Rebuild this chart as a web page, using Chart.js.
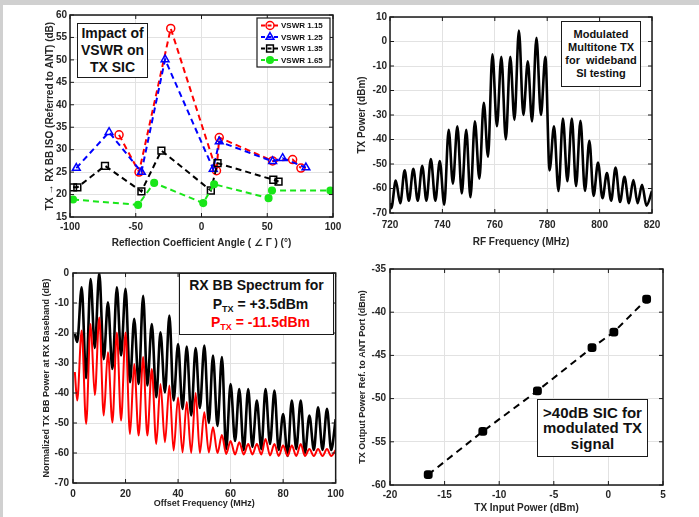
<!DOCTYPE html>
<html>
<head>
<meta charset="utf-8">
<script src="https://cdn.jsdelivr.net/npm/chart.js@4.4.1/dist/chart.umd.min.js"></script>
<style>
  html, body { margin: 0; padding: 0; background: #fff; }
  #page { position: relative; width: 699px; height: 517px; overflow: hidden; background: #fff; }
  .strip { position: absolute; background: #d0d0d0; }
  canvas { position: absolute; }
  .note {
    position: absolute; box-sizing: border-box; border: 1.5px solid #1a1a1a; background: #fff;
    font-family: 'Liberation Sans', Arial, sans-serif; font-weight: bold; color: #111;
    text-align: center; display: flex; flex-direction: column; justify-content: center;
  }
  .note sub { font-size: 9px; vertical-align: -3px; line-height: 0; }
</style>
</head>
<body>
<div id="page">
  <div class="strip" style="left:0;top:0;width:699px;height:5px"></div>
  <div class="strip" style="left:0;top:0;width:3px;height:517px"></div>

  <canvas id="vswr" width="349" height="258" style="left:0;top:0"></canvas>
  <canvas id="txSpec" width="350" height="258" style="left:349px;top:0"></canvas>
  <canvas id="bbSpec" width="349" height="259" style="left:0;top:258px"></canvas>
  <canvas id="sic" width="350" height="259" style="left:349px;top:258px"></canvas>

  <div class="note" style="left:77px;top:23px;width:71px;height:55px;font-size:14px;line-height:17px">
    <div>Impact of</div><div>VSWR on</div><div>TX SIC</div>
  </div>
  <div class="note" style="left:561px;top:21px;width:80px;height:66px;font-size:11px;line-height:13px">
    <div>Modulated</div><div>Multitone TX</div><div>for&nbsp; wideband</div><div>SI testing</div>
  </div>
  <div class="note" style="left:179px;top:273px;width:155px;height:62px;font-size:14px;line-height:18.5px">
    <div>RX BB Spectrum for</div>
    <div style="padding-left:8px">P<sub>TX</sub> = +3.5dBm</div>
    <div style="padding-left:8px;color:#ff0000">P<sub>TX</sub> = -11.5dBm</div>
  </div>
  <div class="note" style="left:537px;top:399px;width:111px;height:58px;font-size:15px;line-height:15.5px">
    <div>&gt;40dB SIC for</div><div>modulated TX</div><div>signal</div>
  </div>
</div>

<script>
// ---- VSWR sweep: reflection coefficient angle (deg) vs TX->RX isolation (dB)
const vswr115Angle = [-62.7, -47.5, -23.4, 11.4, 13.5, 54.1, 69.3, 75.6];
const vswr115Iso   = [33.3, 25.0, 57.0, 25.3, 32.7, 27.5, 27.8, 25.9];
const vswr125Angle = [-95.2, -70.3, -45.7, -27.7, 8.9, 13.5, 54.1, 61.7, 79.4];
const vswr125Iso   = [25.9, 33.9, 25.0, 50.1, 25.7, 31.8, 27.4, 28.1, 26.0];
const vswr135Angle = [-97.7, -94.4, -73.4, -45.7, -30.5, 7.1, 12.2, 54.6, 58.6];
const vswr135Iso   = [21.6, 21.6, 26.4, 20.7, 29.8, 20.9, 27.0, 23.3, 22.9];
const vswr165Angle = [-97.7, -48.2, -36.0, 1.3, 9.6, 51.0, 53.6, 98.0];
const vswr165Iso   = [18.9, 17.7, 22.6, 18.1, 22.3, 19.2, 20.9, 20.9];

// ---- multitone TX spectrum, peaks and nulls
const txFreq = [720, 720.5, 722.2, 723.9, 725.6, 727.2, 728.9, 730.6, 732.3, 733.9, 735.6, 737.3,
  739.0, 740.7, 742.4, 744.0, 745.7, 747.4, 749.1, 750.7, 752.4, 754.1, 755.8, 757.4, 759.1,
  760.8, 762.5, 764.2, 765.9, 767.5, 769.2, 770.9, 772.6, 774.2, 775.9, 777.6, 779.3, 780.9,
  782.6, 784.3, 786.0, 787.7, 789.4, 791.0, 792.7, 794.4, 796.1, 797.7, 799.4, 801.1, 802.8,
  804.4, 806.1, 807.8, 809.5, 811.2, 812.9, 814.5, 816.2, 817.9, 820];
const txPower = [-66, -68, -56.8, -66, -52.6, -65, -52, -65, -50.7, -65, -48, -65,
  -48.8, -66.6, -36, -58, -34.6, -62, -36, -63.6, -32.6, -56, -25, -47, -5.2,
  -34.6, -6.2, -40, -6.2, -32, 4.5, -30, -8.1, -32.6, 1.5, -30, -6.2, -52.6,
  -34.6, -61, -31.4, -57, -31.4, -59, -32.4, -61, -40.5, -63, -49.4, -64, -53.7,
  -65, -51.4, -65.5, -55.2, -66, -56.5, -66, -58.5, -67, -61];

// ---- RX baseband spectrum for two TX powers
const bbFreq = [0.7, 1.6, 3.3, 5.0, 6.7, 8.3, 10, 11.7, 13.3, 15, 16.7, 18.3, 20, 21.7, 23.3,
  25, 26.7, 28.3, 30, 31.7, 33.3, 35, 36.7, 38.3, 40, 41.7, 43.3, 45, 46.7, 48.3, 50, 51.7,
  53.3, 55, 56.7, 58.3, 60, 61.7, 63.3, 65, 66.7, 68.3, 70, 71.7, 73.3, 75, 76.7, 78.3, 80,
  81.7, 83.3, 85, 86.7, 88.3, 90, 91.7, 93.3, 95, 96.7, 98.3, 100];
const bbPowerHigh = [-20.3, -23, -4.8, -35, -2, -25, 0, -28.7, -9.8, -32, -4.8, -27.5, -5.3,
  -36.4, -15.3, -37, -7.6, -37.5, -17, -41.4, -19.8, -39.8, -14.2, -42.5, -23.7, -45.3,
  -24.5, -47.5, -25, -45, -24.2, -50, -27.5, -51, -28, -58.7, -37, -56, -38.7, -59, -38.7,
  -58, -42.5, -58.7, -38.7, -57, -39.2, -59, -47, -61, -42.5, -58.7, -42.5, -60, -47.5,
  -59, -44.8, -59, -45.3, -59, -48.7];
const bbPowerLow = [-33, -42.5, -19.2, -50.3, -17, -40.7, -14.8, -47.5, -26.4, -49.8, -19.8,
  -49.2, -19.8, -53.7, -30.3, -54.2, -28, -54.2, -32, -57, -37, -56.4, -37.5, -59.2, -41.5,
  -59.8, -43, -60, -40, -60, -46.4, -59.8, -51.4, -60, -54, -60.3, -56, -60.5, -56.4, -60.5,
  -57, -60.5, -57, -60.5, -55.3, -60.8, -57, -61, -57.5, -61, -57.5, -61, -57, -61, -58.7,
  -61, -58.7, -61, -58.7, -61, -59];

// ---- TX input power vs residual output power at ANT port
const txInput  = [-16.5, -11.5, -6.5, -1.5, 0.5, 3.5];
const txOutput = [-58.8, -53.8, -49.1, -44.1, -42.3, -38.5];

const FONT = "'Liberation Sans', Arial, 'DejaVu Sans', sans-serif";
const INK = '#262626';

function pts(xs, ys) {
  return xs.map((x, i) => ({x: x, y: ys[i]}));
}

function axis(min, max, step, title, o) {
  return {
    type: 'linear', min: min, max: max,
    afterFit: function (s) { if (s.isHorizontal()) s.height = o.size; else s.width = o.size; },
    border: {display: false},
    grid: {color: '#e2e2e2', drawTicks: false},
    ticks: {stepSize: step, padding: o.tickPad, autoSkip: false, maxRotation: 0, color: INK,
      font: {family: FONT, size: 10, weight: 'bold'}},
    title: {display: true, text: title, color: INK, padding: o.titlePad,
      font: {family: FONT, size: o.titleSize || 10, weight: 'bold'}}
  };
}

// matlab style box with inward ticks on all four sides
const frame = {
  id: 'frame',
  afterDraw(chart) {
    const {ctx, chartArea: a, scales} = chart;
    ctx.save();
    ctx.strokeStyle = '#1a1a1a';
    ctx.lineWidth = 1;
    ctx.beginPath();
    scales.x.ticks.forEach(t => {
      const px = scales.x.getPixelForValue(t.value);
      ctx.moveTo(px, a.bottom); ctx.lineTo(px, a.bottom - 4);
      ctx.moveTo(px, a.top); ctx.lineTo(px, a.top + 4);
    });
    scales.y.ticks.forEach(t => {
      const py = scales.y.getPixelForValue(t.value);
      ctx.moveTo(a.left, py); ctx.lineTo(a.left + 4, py);
      ctx.moveTo(a.right, py); ctx.lineTo(a.right - 4, py);
    });
    ctx.stroke();
    ctx.lineWidth = 1.5;
    ctx.strokeRect(a.left, a.top, a.right - a.left, a.bottom - a.top);
    ctx.restore();
  }
};

// legend box in the upper right corner of the VSWR plot
const vswrLegend = {
  id: 'vswrLegend',
  afterDraw(chart) {
    const {ctx, chartArea: a} = chart;
    const bx = a.right - 76, by = a.top + 3, bw = 73, bh = 49;
    ctx.save();
    ctx.fillStyle = '#fff';
    ctx.fillRect(bx, by, bw, bh);
    ctx.strokeStyle = '#1a1a1a';
    ctx.lineWidth = 1.2;
    ctx.strokeRect(bx, by, bw, bh);
    ctx.font = 'bold 8px ' + FONT;
    ctx.textBaseline = 'middle';
    chart.data.datasets.forEach((ds, i) => {
      const y = by + 7.5 + i * 11.5;
      ctx.strokeStyle = ds.borderColor;
      ctx.lineWidth = 2;
      ctx.setLineDash([4, 2.5]);
      ctx.beginPath();
      ctx.moveTo(bx + 4, y); ctx.lineTo(bx + 22, y);
      ctx.stroke();
      ctx.setLineDash([]);
      ctx.lineWidth = ds.pointBorderWidth;
      ctx.fillStyle = ds.pointBackgroundColor;
      Chart.helpers.drawPoint(ctx, {pointStyle: ds.pointStyle, radius: ds.pointRadius,
        rotation: 0, borderWidth: ds.pointBorderWidth}, bx + 13, y);
      ctx.fillStyle = '#111';
      ctx.fillText(ds.label, bx + 24, y + 0.5);
    });
    ctx.restore();
  }
};

const baseOptions = {
  responsive: false, animation: false, devicePixelRatio: 1, events: [],
  plugins: {legend: {display: false}, tooltip: {enabled: false}}
};

function vswrSet(label, xs, ys, color, style, radius, fill, order) {
  return {
    label: label, data: pts(xs, ys), order: order,
    borderColor: color, borderWidth: 2, borderDash: [6, 4], fill: false,
    pointStyle: style, pointRadius: radius, pointHoverRadius: radius,
    pointBorderColor: color, pointBorderWidth: 1.5,
    pointBackgroundColor: fill ? color : 'rgba(0,0,0,0)'
  };
}

new Chart(document.getElementById('vswr'), {
  type: 'line',
  data: {
    datasets: [
      vswrSet('VSWR 1.15', vswr115Angle, vswr115Iso, '#ff0000', 'circle', 4, false, 4),
      vswrSet('VSWR 1.25', vswr125Angle, vswr125Iso, '#0000ff', 'triangle', 4.5, false, 3),
      vswrSet('VSWR 1.35', vswr135Angle, vswr135Iso, '#000000', 'rect', 4.8, false, 2),
      vswrSet('VSWR 1.65', vswr165Angle, vswr165Iso, '#19e619', 'circle', 3.3, true, 1)
    ]
  },
  options: Object.assign({}, baseOptions, {
    layout: {padding: {left: 0, top: 15, right: 16, bottom: 0}},
    scales: {
      x: axis(-100, 100, 50, 'Reflection Coefficient Angle ( \u2220 \u0393 ) (\u00b0)',
        {size: 41, tickPad: 4, titlePad: {top: 0, bottom: 9}}),
      y: axis(15, 60, 5, 'TX \u2192 RX BB ISO (Referred to ANT) (dB)',
        {size: 70, tickPad: 3, titlePad: {top: 44, bottom: 0}})
    }
  }),
  plugins: [frame, vswrLegend]
});

new Chart(document.getElementById('txSpec'), {
  type: 'line',
  data: {
    datasets: [{
      data: pts(txFreq, txPower), borderColor: '#000', borderWidth: 2.6,
      pointRadius: 0, cubicInterpolationMode: 'monotone', fill: false
    }]
  },
  options: Object.assign({}, baseOptions, {
    layout: {padding: {left: 0, top: 17, right: 47, bottom: 0}},
    scales: {
      x: axis(720, 820, 20, 'RF Frequency (MHz)', {size: 45, tickPad: 6, titlePad: {top: 0, bottom: 10}}),
      y: axis(-70, 10, 10, 'TX Power (dBm)', {size: 41, tickPad: 3, titlePad: {top: 7, bottom: 0}})
    }
  }),
  plugins: [frame]
});

new Chart(document.getElementById('bbSpec'), {
  type: 'line',
  data: {
    datasets: [
      {data: pts(bbFreq, bbPowerLow), borderColor: '#ff0000', borderWidth: 2,
        pointRadius: 0, cubicInterpolationMode: 'monotone', fill: false},
      {data: pts(bbFreq, bbPowerHigh), borderColor: '#000', borderWidth: 2.6,
        pointRadius: 0, cubicInterpolationMode: 'monotone', fill: false}
    ]
  },
  options: Object.assign({}, baseOptions, {
    layout: {padding: {left: 0, top: 15, right: 11, bottom: 0}},
    scales: {
      x: axis(0, 100, 20, 'Offset Frequency (MHz)',
        {size: 34, tickPad: 5, titlePad: {top: 0, bottom: 8}, titleSize: 9}),
      y: axis(-70, 0, 10, 'Normalized TX BB Power at RX Baseband (dB)',
        {size: 73, tickPad: 4, titlePad: {top: 41.5, bottom: 0}, titleSize: 9})
    }
  }),
  plugins: [frame]
});

new Chart(document.getElementById('sic'), {
  type: 'line',
  data: {
    datasets: [{
      data: pts(txInput, txOutput), borderColor: '#000', borderWidth: 2, borderDash: [7, 5],
      pointStyle: 'rectRounded', pointRadius: 4, pointHoverRadius: 4,
      pointBackgroundColor: '#000', pointBorderColor: '#000', fill: false
    }]
  },
  options: Object.assign({}, baseOptions, {
    layout: {padding: {left: 0, top: 11, right: 36, bottom: 0}},
    scales: {
      x: axis(-20, 5, 5, 'TX Input Power (dBm)', {size: 32, tickPad: 4, titlePad: {top: 0, bottom: 3}}),
      y: axis(-60, -35, 5, 'TX Output Power Ref. to ANT Port (dBm)',
        {size: 41, tickPad: 4, titlePad: {top: 8.6, bottom: 0}, titleSize: 9})
    }
  }),
  plugins: [frame]
});
</script>
</body>
</html>
